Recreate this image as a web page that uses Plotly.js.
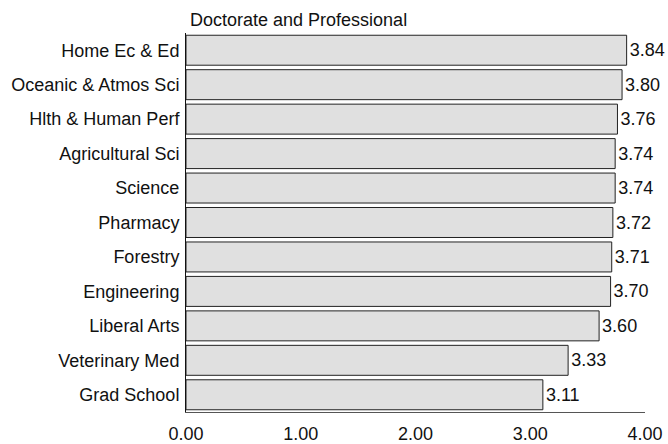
<!DOCTYPE html>
<html><head><meta charset="utf-8">
<script src="https://cdn.plot.ly/plotly-3.0.1.min.js"></script>
<style>html,body{margin:0;padding:0;background:#fff;}#chart{width:668px;height:444px;}</style>
</head><body><div id="chart"></div>
<script>
const categories = ["Home Ec & Ed","Oceanic & Atmos Sci","Hlth & Human Perf","Agricultural Sci","Science","Pharmacy","Forestry","Engineering","Liberal Arts","Veterinary Med","Grad School"];
const values = [3.84,3.80,3.76,3.74,3.74,3.72,3.71,3.70,3.60,3.33,3.11];
const xTickVals = [0,1,2,3,4];
const xTickText = ["0.00","1.00","2.00","3.00","4.00"];
const chartTitle = "Doctorate and Professional";

const font = {family:"Liberation Sans, Arial, sans-serif", size:18, color:"#111"};
Plotly.newPlot("chart", [{
  type:"bar", orientation:"h", x:values, y:categories,
  marker:{color:"#e0e0e0", line:{color:"#222", width:1}},
  text:values.map(v=>v.toFixed(2)), textposition:"outside", cliponaxis:false,
  textfont:font, hoverinfo:"none"
}], {
  width:668, height:444,
  margin:{l:186, r:23, t:33, b:32},
  paper_bgcolor:"#fff", plot_bgcolor:"#fff",
  font:font, bargap:0.13, showlegend:false,
  title:{text:chartTitle, x:190/668, xref:"container", xanchor:"left", y:1-20/444, yref:"container", yanchor:"middle", pad:{t:0,l:0,r:0,b:0}, font:font},
  xaxis:{range:[0,4], tickvals:xTickVals, ticktext:xTickText, showgrid:false, zeroline:false,
    showline:true, linecolor:"#555", linewidth:1, ticks:"", ticklabelstandoff:5, tickfont:font, fixedrange:true},
  yaxis:{categoryorder:"array", categoryarray:categories, autorange:"reversed", showgrid:false, zeroline:false,
    showline:true, linecolor:"#111", linewidth:1, ticks:"", ticklabelstandoff:2, tickfont:font, fixedrange:true}
}, {staticPlot:true});
</script></body></html>
